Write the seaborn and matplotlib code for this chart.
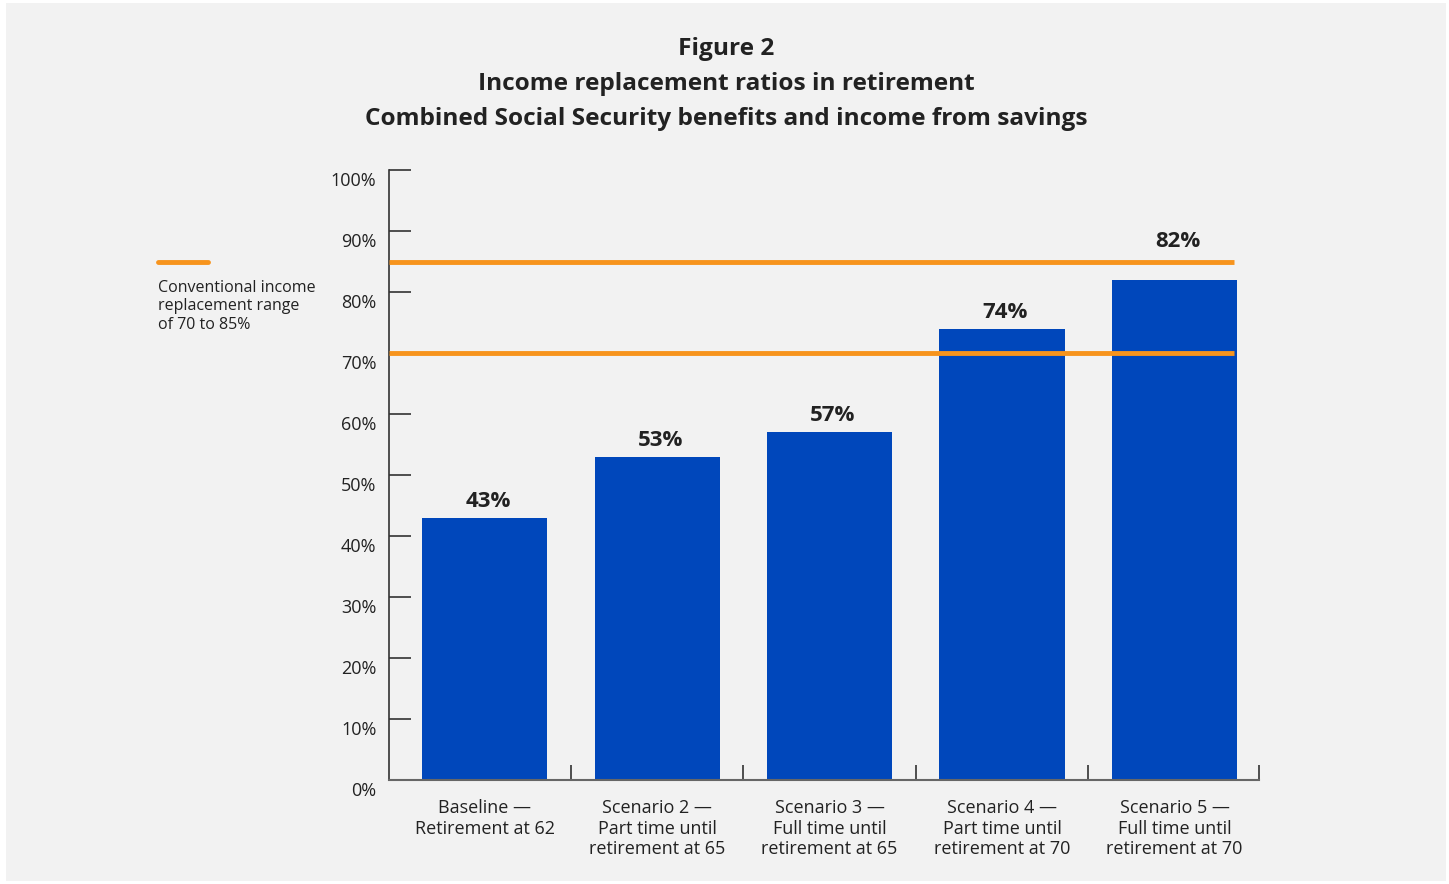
import matplotlib
matplotlib.use("Agg")
import matplotlib.pyplot as plt
import matplotlib.transforms as mtransforms
import seaborn as sns
import pandas as pd
from matplotlib.patches import Rectangle

categories = ["Baseline —\nRetirement at 62",
              "Scenario 2 —\nPart time until\nretirement at 65",
              "Scenario 3 —\nFull time until\nretirement at 65",
              "Scenario 4 —\nPart time until\nretirement at 70",
              "Scenario 5 —\nFull time until\nretirement at 70"]
values = [43, 53, 57, 74, 82]
range_low = 70
range_high = 85
yticks = [0, 10, 20, 30, 40, 50, 60, 70, 80, 90, 100]
title_lines = ["Figure 2", "Income replacement ratios in retirement",
               "Combined Social Security benefits and income from savings"]
legend_text = "Conventional income\nreplacement range\nof 70 to 85%"

BLUE = "#0047BB"
ORANGE = "#F7941D"
TXT = "#222222"
BG = "#F2F2F2"

sns.set_theme(style="white")
plt.rcParams["font.family"] = ["Open Sans", "DejaVu Sans"]

W, H = 1449, 884
fig = plt.figure(figsize=(W / 100, H / 100), dpi=100)
fig.patch.set_facecolor("white")
fig.patches.append(Rectangle((6 / W, 3 / H), 1440 / W, 878 / H, transform=fig.transFigure,
                             facecolor=BG, edgecolor="none", zorder=-10))

ax = fig.add_axes([389 / W, 1 - 780 / H, (1259 - 389) / W, (780 - 170) / H])
ax.set_facecolor("none")

df = pd.DataFrame({"cat": categories, "val": values})
sns.barplot(data=df, x="cat", y="val", color=BLUE, saturation=1, width=0.725,
            linewidth=0, edgecolor="none", ax=ax)

xl, xr = -0.554, 4.49
ax.set_xlim(xl, xr)
ax.set_ylim(0, 100)

for y in (range_low, range_high):
    ax.hlines(y, xl, 4.345, color=ORANGE, lw=3.5, zorder=5)

for i, v in enumerate(values):
    ly = v + 2.7
    if v < range_high <= ly + 2:
        ly = range_high + 3.2
    ax.text(i + 0.02, ly, f"{v}%", ha="center", va="center", fontsize=16,
            fontweight="bold", color=TXT)

ax.set_yticks(yticks)
ax.set_yticklabels([f"{t}%" for t in yticks], fontsize=13, color=TXT)
ax.tick_params(axis="y", direction="in", length=16, width=1.2, color="#333333", pad=9, left=True)
shift = mtransforms.ScaledTranslation(0, -9 / 100, fig.dpi_scale_trans)
for lab in ax.get_yticklabels():
    lab.set_transform(lab.get_transform() + shift)

ax.set_xticks(range(len(categories)))
ax.set_xticklabels(categories, fontsize=13, color=TXT, linespacing=1.15, va="top")
ax.tick_params(axis="x", length=0, pad=14)
ax.set_xticks([0.5, 1.5, 2.5, 3.5, xr], minor=True)
ax.tick_params(axis="x", which="minor", direction="in", length=11, width=1.2, color="#333333", bottom=True)

ax.set_xlabel("")
ax.set_ylabel("")
for s in ("top", "right"):
    ax.spines[s].set_visible(False)
ax.spines["left"].set_color("#333333")
ax.spines["left"].set_linewidth(1.2)
ax.spines["bottom"].set_color("#666666")
ax.spines["bottom"].set_linewidth(1.5)

ys = [49, 84, 119]
for t, y in zip(title_lines, ys):
    fig.text(726 / W, 1 - y / H, t, ha="center", va="center", fontsize=17.6,
             fontweight="bold", color=TXT)

fig.add_artist(plt.Line2D([158 / W, 208 / W], [1 - 262 / H, 1 - 262 / H],
                          transform=fig.transFigure, color=ORANGE, lw=3.5))
fig.text(158 / W, 1 - 280 / H, legend_text, ha="left", va="top", fontsize=11.5,
         color=TXT, linespacing=1.2)

fig.savefig("out.png", dpi=100, facecolor=fig.get_facecolor())
